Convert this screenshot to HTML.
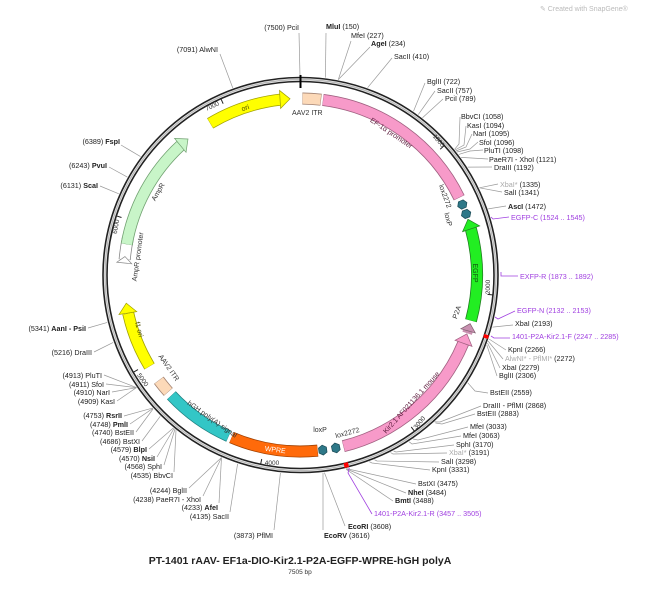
<!DOCTYPE html>
<html><head><meta charset="utf-8"><style>
body{margin:0;background:#fff;}
svg{display:block;font-family:"Liberation Sans",sans-serif;}
.l{font-size:7.2px;fill:#222;}
.b{font-weight:bold;}
.g{fill:#aaa;}
.p{fill:#a040e0;}
.ln line,.ln polyline{stroke:#999;stroke-width:0.7;fill:none;}
.pl{stroke:#a040e0;stroke-width:0.8;fill:none;}
.f{font-size:7px;fill:#333;}
</style></head><body>
<svg width="650" height="596" viewBox="0 0 650 596" xmlns="http://www.w3.org/2000/svg">
<text x="540" y="11" font-size="7" fill="#bbb">✎ Created with SnapGene®</text>
<!-- leader lines -->
<g class="ln">
<line x1="299" y1="33" x2="300" y2="76"/>
<line x1="326" y1="33" x2="325.4" y2="77.6"/>
<line x1="351" y1="41" x2="338.3" y2="79.6"/>
<line x1="370" y1="47" x2="338.3" y2="79.6"/>
<line x1="392" y1="58" x2="367.6" y2="87.7"/>
<line x1="220" y1="54" x2="232.8" y2="88"/>
<line x1="121" y1="145" x2="140.5" y2="156.6"/>
<line x1="109" y1="167" x2="127.3" y2="177.1"/>
<line x1="100" y1="186" x2="118.8" y2="193.8"/>
<line x1="425" y1="83" x2="413.5" y2="111.2"/>
<line x1="435" y1="91" x2="418.3" y2="114.6"/>
<line x1="443" y1="99" x2="422.5" y2="117.8"/>
<polyline points="460,117 459,144 454.7,149.2"/>
<polyline points="466,126 464,145 455,150"/>
<polyline points="472,134 466,147 456,151"/>
<polyline points="478,142 470,149 457,152"/>
<polyline points="483,150 470,151 458.7,154.4"/>
<line x1="488" y1="159" x2="461.1" y2="157.4"/>
<line x1="492" y1="167" x2="467.8" y2="167.1"/>
<line x1="498" y1="184" x2="479.4" y2="187.8"/>
<line x1="502" y1="192" x2="479.4" y2="187.8"/>
<line x1="506" y1="206" x2="488.2" y2="208.9"/>
<line x1="513" y1="325" x2="492.5" y2="327.1"/>
<line x1="506" y1="350" x2="489" y2="339"/>
<line x1="503" y1="359" x2="488" y2="341"/>
<line x1="500" y1="368" x2="487.5" y2="343"/>
<line x1="497" y1="376" x2="486.8" y2="345"/>
<polyline points="488,393 475,391 467.8,382.8"/>
<polyline points="481,406 440,422 434.6,421.9"/>
<polyline points="475,414 442,424 435.5,423"/>
<polyline points="468,427 418,440 413.1,439"/>
<polyline points="461,436 412,444 409.2,441.8"/>
<polyline points="454,445 396,452 393.6,451"/>
<polyline points="447,453 393,454 390.5,452.5"/>
<polyline points="439,462 377,461 374.4,459.7"/>
<polyline points="430,470 372,463 369.2,461.7"/>
<line x1="416" y1="484" x2="346.3" y2="468.6"/>
<line x1="406" y1="493" x2="346.3" y2="469"/>
<line x1="393" y1="501" x2="346.3" y2="469.5"/>
<line x1="345" y1="526" x2="324.4" y2="472.6"/>
<line x1="323" y1="530" x2="323" y2="472.7"/>
<line x1="274" y1="530" x2="280.4" y2="473"/>
<line x1="230" y1="512" x2="237.6" y2="463.8"/>
<line x1="219" y1="503" x2="221.5" y2="457.5"/>
<line x1="203" y1="496" x2="221.5" y2="457.5"/>
<line x1="189" y1="488" x2="221.5" y2="457.5"/>
<line x1="174" y1="472" x2="176" y2="430"/>
<line x1="164" y1="465" x2="175" y2="429"/>
<line x1="157" y1="457" x2="174" y2="428.5"/>
<line x1="149" y1="449" x2="173.3" y2="428"/>
<line x1="142" y1="441" x2="160.2" y2="416.3"/>
<line x1="136" y1="432" x2="153" y2="409"/>
<line x1="130" y1="424" x2="152.8" y2="408.4"/>
<line x1="124" y1="416" x2="152.6" y2="408.1"/>
<line x1="117" y1="401" x2="136.5" y2="387.6"/>
<line x1="112" y1="392" x2="136.5" y2="387.6"/>
<line x1="106" y1="384" x2="136.5" y2="387.6"/>
<line x1="104" y1="375" x2="136.5" y2="387.6"/>
<line x1="94" y1="352" x2="113.2" y2="342.4"/>
<line x1="88" y1="328" x2="107.3" y2="322.4"/>
</g>
<g>
<polyline class="pl" points="509,217 493,219 491,217"/>
<polyline class="pl" points="518,276 501,276 501,272"/>
<polyline class="pl" points="515,311 498,319 495,317"/>
<polyline class="pl" points="510,338 494,338 491,336"/>
<polyline class="pl" points="372,514 348,473 349.3,467.9"/>
</g>
<!-- backbone -->
<circle cx="300.5" cy="275" r="197.5" fill="none" stroke="#222" stroke-width="1.6"/>
<circle cx="300.5" cy="275" r="195.5" fill="none" stroke="#bbb" stroke-width="1.4"/>
<circle cx="300.5" cy="275" r="193.5" fill="none" stroke="#222" stroke-width="1.6"/>
<!-- red marks -->
<circle cx="300.5" cy="275" r="195.5" fill="none" stroke="#f00" stroke-width="5" stroke-dasharray="3.7 2000" transform="rotate(17.8 300.5 275)"/>
<circle cx="300.5" cy="275" r="195.5" fill="none" stroke="#f00" stroke-width="5" stroke-dasharray="4.5 2000" transform="rotate(75.8 300.5 275)"/>
<line x1="300.5" y1="75" x2="300.5" y2="88" stroke="#000" stroke-width="2"/>
<!-- ticks -->
<g stroke="#222" stroke-width="1">
<line x1="300.5" y1="81" x2="300.5" y2="87" transform="rotate(48 300.5 275)"/>
<line x1="300.5" y1="81" x2="300.5" y2="87" transform="rotate(95.9 300.5 275)"/>
<line x1="300.5" y1="81" x2="300.5" y2="87" transform="rotate(143.9 300.5 275)"/>
<line x1="300.5" y1="81" x2="300.5" y2="87" transform="rotate(191.9 300.5 275)"/>
<line x1="300.5" y1="81" x2="300.5" y2="87" transform="rotate(239.8 300.5 275)"/>
<line x1="300.5" y1="81" x2="300.5" y2="87" transform="rotate(287.8 300.5 275)"/>
<line x1="300.5" y1="81" x2="300.5" y2="87" transform="rotate(335.7 300.5 275)"/>
</g>
<!-- features: outline + fill arcs. C=1109 -->
<g fill="none">
<!-- ITR1 0.6-6.7 -->
<circle cx="300.5" cy="275" r="176.5" stroke="#a08070" stroke-width="12" stroke-dasharray="18.8 2000" transform="rotate(-89.4 300.5 275)"/>
<circle cx="300.5" cy="275" r="176.5" stroke="#fcd9b8" stroke-width="10.4" stroke-dasharray="18 2000" transform="rotate(-89.3 300.5 275)"/>
<!-- EF1a 7.3-64 -->
<circle cx="300.5" cy="275" r="176.5" stroke="#a06080" stroke-width="12" stroke-dasharray="174.7 2000" transform="rotate(-82.7 300.5 275)"/>
<circle cx="300.5" cy="275" r="176.5" stroke="#f79ac9" stroke-width="10.4" stroke-dasharray="174 2000" transform="rotate(-82.6 300.5 275)"/>
<!-- EGFP body 74.8-105 -->
<circle cx="300.5" cy="275" r="176.5" stroke="#208020" stroke-width="12" stroke-dasharray="93 2000" transform="rotate(-15.2 300.5 275)"/>
<circle cx="300.5" cy="275" r="176.5" stroke="#22ee22" stroke-width="10.4" stroke-dasharray="92.5 2000" transform="rotate(-15.1 300.5 275)"/>
<!-- P2A 107.5-109.2 -->
<circle cx="300.5" cy="275" r="176.5" stroke="#c890b0" stroke-width="10" stroke-dasharray="5.5 2000" transform="rotate(17.5 300.5 275)"/>
<!-- Kir body 112.7-166 -->
<circle cx="300.5" cy="275" r="176.5" stroke="#a06080" stroke-width="12" stroke-dasharray="164 2000" transform="rotate(22.7 300.5 275)"/>
<circle cx="300.5" cy="275" r="176.5" stroke="#f79ac9" stroke-width="10.4" stroke-dasharray="163.3 2000" transform="rotate(22.8 300.5 275)"/>
<!-- WPRE 174.4-203 -->
<circle cx="300.5" cy="275" r="176.5" stroke="#a04000" stroke-width="12" stroke-dasharray="88.1 2000" transform="rotate(84.4 300.5 275)"/>
<circle cx="300.5" cy="275" r="176.5" stroke="#ff6a0a" stroke-width="10.4" stroke-dasharray="87.5 2000" transform="rotate(84.5 300.5 275)"/>
<!-- hGH 204-227 -->
<circle cx="300.5" cy="275" r="176.5" stroke="#208080" stroke-width="12" stroke-dasharray="70.9 2000" transform="rotate(114 300.5 275)"/>
<circle cx="300.5" cy="275" r="176.5" stroke="#33c6c6" stroke-width="10.4" stroke-dasharray="70.3 2000" transform="rotate(114.1 300.5 275)"/>
<!-- ITR2 228.5-233.4 -->
<circle cx="300.5" cy="275" r="176.5" stroke="#a08070" stroke-width="12" stroke-dasharray="15.1 2000" transform="rotate(138.5 300.5 275)"/>
<circle cx="300.5" cy="275" r="176.5" stroke="#fcd9b8" stroke-width="10.4" stroke-dasharray="14.5 2000" transform="rotate(138.6 300.5 275)"/>
<!-- f1 ori body 238.8-257.5 -->
<circle cx="300.5" cy="275" r="176.5" stroke="#a0a000" stroke-width="12" stroke-dasharray="57.6 2000" transform="rotate(148.8 300.5 275)"/>
<circle cx="300.5" cy="275" r="176.5" stroke="#ffff00" stroke-width="10.4" stroke-dasharray="57 2000" transform="rotate(148.9 300.5 275)"/>
<!-- AmpR promoter 275-282 -->
<circle cx="300.5" cy="275" r="176.5" stroke="#888" stroke-width="12" stroke-dasharray="21.6 2000" transform="rotate(185 300.5 275)"/>
<circle cx="300.5" cy="275" r="176.5" stroke="#fff" stroke-width="10.4" stroke-dasharray="21 2000" transform="rotate(185.1 300.5 275)"/>
<!-- AmpR body 280-317.2 -->
<circle cx="300.5" cy="275" r="176.5" stroke="#70a070" stroke-width="12" stroke-dasharray="114.6 2000" transform="rotate(190 300.5 275)"/>
<circle cx="300.5" cy="275" r="176.5" stroke="#c8f5c8" stroke-width="10.4" stroke-dasharray="114 2000" transform="rotate(190.1 300.5 275)"/>
<!-- ori body 329.2-353.4 -->
<circle cx="300.5" cy="275" r="176.5" stroke="#a0a000" stroke-width="12" stroke-dasharray="74.5 2000" transform="rotate(239.2 300.5 275)"/>
<circle cx="300.5" cy="275" r="176.5" stroke="#ffff00" stroke-width="10.4" stroke-dasharray="74 2000" transform="rotate(239.3 300.5 275)"/>
</g>
<!-- arrowheads -->
<g stroke-width="0.7">
<polygon points="300.5,98.5 310.5,89.5 310.5,107.5" fill="#22ee22" stroke="#208020" transform="rotate(71.6 300.5 275)"/>
<polygon points="300.5,98.5 308,91 308,106" fill="#c890b0" stroke="#806070" transform="rotate(106 300.5 275)"/>
<polygon points="300.5,98.5 310.5,89.5 310.5,107.5" fill="#f79ac9" stroke="#a06080" transform="rotate(109.5 300.5 275)"/>
<polygon points="300.5,98.5 290.5,89.5 290.5,107.5" fill="#ffff00" stroke="#a0a000" transform="rotate(260.8 300.5 275)"/>
<polygon points="300.5,98.5 290.5,89.5 290.5,107.5" fill="#c8f5c8" stroke="#70a070" transform="rotate(320.4 300.5 275)"/>
<polygon points="300.5,98.5 290.5,89.5 290.5,107.5" fill="#ffff00" stroke="#a0a000" transform="rotate(356.6 300.5 275)"/>
<polygon points="300.5,98.5 294,91 294,106" fill="#fff" stroke="#888" transform="rotate(276 300.5 275)"/>
<!-- lox sites -->
<polygon points="297,96 301,93.5 305,96 305,101 301,103.5 297,101" fill="#2e7888" stroke="#1a4a55" transform="rotate(66.3 300.5 275)"/>
<polygon points="297,96 301,93.5 305,96 305,101 301,103.5 297,101" fill="#2e7888" stroke="#1a4a55" transform="rotate(69.6 300.5 275)"/>
<polygon points="297,96 301,93.5 305,96 305,101 301,103.5 297,101" fill="#2e7888" stroke="#1a4a55" transform="rotate(168.3 300.5 275)"/>
<polygon points="297,96 301,93.5 305,96 305,101 301,103.5 297,101" fill="#2e7888" stroke="#1a4a55" transform="rotate(172.6 300.5 275)"/>
</g>
<!-- feature labels -->
<g class="f">
<text x="292" y="115">AAV2 ITR</text>
<text x="390" y="135" text-anchor="middle" transform="rotate(34 390 135)" fill="#602040">EF-1α promoter</text>
<text x="437" y="142" text-anchor="middle" transform="rotate(50 437 142)" font-size="6.5">1000</text>
<text x="443" y="197" text-anchor="middle" transform="rotate(70 443 197)">lox2272</text>
<text x="446" y="220" text-anchor="middle" transform="rotate(75 446 220)">loxP</text>
<text x="473" y="273" text-anchor="middle" transform="rotate(90 473 273)" fill="#105010">EGFP</text>
<text x="490" y="287" text-anchor="middle" transform="rotate(-90 490 287)" font-size="6.5">2000</text>
<text x="459" y="313" text-anchor="middle" transform="rotate(-70 459 313)">P2A</text>
<text x="413" y="404" text-anchor="middle" transform="rotate(-48 413 404)" fill="#602040">Kir2.1 AF021136.1 mouse</text>
<text x="421" y="424" text-anchor="middle" transform="rotate(-50 421 424)" font-size="6.5">3000</text>
<text x="320" y="432" text-anchor="middle">loxP</text>
<text x="348" y="435" text-anchor="middle" transform="rotate(-15 348 435)">lox2272</text>
<text x="275" y="452" text-anchor="middle" transform="rotate(7 275 452)" fill="#fff">WPRE</text>
<text x="272" y="465" text-anchor="middle" font-size="6.5">4000</text>
<text x="211" y="421" text-anchor="middle" transform="rotate(35 211 421)">hGH poly(A) signal</text>
<text x="167" y="369" text-anchor="middle" transform="rotate(55 167 369)">AAV2 ITR</text>
<text x="141" y="381" text-anchor="middle" transform="rotate(55 141 381)" font-size="6.5">5000</text>
<text x="137" y="330" text-anchor="middle" transform="rotate(75 137 330)" fill="#505000">f1 ori</text>
<text x="140" y="257" text-anchor="middle" transform="rotate(-82 140 257)">AmpR promoter</text>
<text x="118" y="227" text-anchor="middle" transform="rotate(-80 118 227)" font-size="6.5">6000</text>
<text x="160" y="193" text-anchor="middle" transform="rotate(-60 160 193)">AmpR</text>
<text x="246" y="110" text-anchor="middle" transform="rotate(-20 246 110)" fill="#505000">ori</text>
<text x="213" y="108" text-anchor="middle" transform="rotate(-25 213 108)" font-size="6.5">7000</text>
</g>
<!-- site labels -->
<g class="l">
<text x="299" y="30" text-anchor="end">(7500)  PciI</text>
<text x="326" y="29"><tspan class="b">MluI</tspan>  (150)</text>
<text x="351" y="38">MfeI  (227)</text>
<text x="371" y="46"><tspan class="b">AgeI</tspan>  (234)</text>
<text x="394" y="59">SacII  (410)</text>
<text x="218" y="52" text-anchor="end">(7091)  AlwNI</text>
<text x="120" y="144" text-anchor="end">(6389)  <tspan class="b">FspI</tspan></text>
<text x="107" y="168" text-anchor="end">(6243)  <tspan class="b">PvuI</tspan></text>
<text x="98" y="188" text-anchor="end">(6131)  <tspan class="b">ScaI</tspan></text>
<text x="427" y="84">BglII  (722)</text>
<text x="437" y="93">SacII  (757)</text>
<text x="445" y="101">PciI  (789)</text>
<text x="461" y="119">BbvCI  (1058)</text>
<text x="467" y="128">KasI  (1094)</text>
<text x="473" y="136">NarI  (1095)</text>
<text x="479" y="145">SfoI  (1096)</text>
<text x="484" y="153">PluTI  (1098)</text>
<text x="489" y="162">PaeR7I - XhoI  (1121)</text>
<text x="494" y="170">DraIII  (1192)</text>
<text x="500" y="187"><tspan class="g">XbaI*</tspan>  (1335)</text>
<text x="504" y="195">SalI  (1341)</text>
<text x="508" y="209"><tspan class="b">AscI</tspan>  (1472)</text>
<text x="511" y="220" class="p">EGFP-C  (1524 .. 1545)</text>
<text x="520" y="279" class="p">EXFP-R  (1873 .. 1892)</text>
<text x="517" y="313" class="p">EGFP-N  (2132 .. 2153)</text>
<text x="515" y="326">XbaI  (2193)</text>
<text x="512" y="339" class="p">1401-P2A-Kir2.1-F  (2247 .. 2285)</text>
<text x="508" y="352">KpnI  (2266)</text>
<text x="505" y="361"><tspan class="g">AlwNI* - PflMI*</tspan>  (2272)</text>
<text x="502" y="370">XbaI  (2279)</text>
<text x="499" y="378">BglII  (2306)</text>
<text x="490" y="395">BstEII  (2559)</text>
<text x="483" y="408">DraIII - PflMI  (2868)</text>
<text x="477" y="416">BstEII  (2883)</text>
<text x="470" y="429">MfeI  (3033)</text>
<text x="463" y="438">MfeI  (3063)</text>
<text x="456" y="447">SphI  (3170)</text>
<text x="449" y="455"><tspan class="g">XbaI*</tspan>  (3191)</text>
<text x="441" y="464">SalI  (3298)</text>
<text x="432" y="472">KpnI  (3331)</text>
<text x="418" y="486">BstXI  (3475)</text>
<text x="408" y="495"><tspan class="b">NheI</tspan>  (3484)</text>
<text x="395" y="503"><tspan class="b">BmtI</tspan>  (3488)</text>
<text x="374" y="516" class="p">1401-P2A-Kir2.1-R  (3457 .. 3505)</text>
<text x="348" y="529"><tspan class="b">EcoRI</tspan>  (3608)</text>
<text x="324" y="538"><tspan class="b">EcoRV</tspan>  (3616)</text>
<text x="273" y="538" text-anchor="end">(3873)  PflMI</text>
<text x="229" y="519" text-anchor="end">(4135)  SacII</text>
<text x="218" y="510" text-anchor="end">(4233)  <tspan class="b">AfeI</tspan></text>
<text x="201" y="502" text-anchor="end">(4238)  PaeR7I - XhoI</text>
<text x="187" y="493" text-anchor="end">(4244)  BglII</text>
<text x="173" y="478" text-anchor="end">(4535)  BbvCI</text>
<text x="162" y="469" text-anchor="end">(4568)  SphI</text>
<text x="155" y="461" text-anchor="end">(4570)  <tspan class="b">NsiI</tspan></text>
<text x="147" y="452" text-anchor="end">(4579)  <tspan class="b">BlpI</tspan></text>
<text x="140" y="444" text-anchor="end">(4686)  BstXI</text>
<text x="134" y="435" text-anchor="end">(4740)  BstEII</text>
<text x="128" y="427" text-anchor="end">(4748)  <tspan class="b">PmlI</tspan></text>
<text x="122" y="418" text-anchor="end">(4753)  <tspan class="b">RsrII</tspan></text>
<text x="115" y="404" text-anchor="end">(4909)  KasI</text>
<text x="110" y="395" text-anchor="end">(4910)  NarI</text>
<text x="104" y="387" text-anchor="end">(4911)  SfoI</text>
<text x="102" y="378" text-anchor="end">(4913)  PluTI</text>
<text x="92" y="355" text-anchor="end">(5216)  DraIII</text>
<text x="86" y="331" text-anchor="end">(5341)  <tspan class="b">AanI - PsiI</tspan></text>
</g>
<text x="300" y="564" text-anchor="middle" font-size="10.5" font-weight="bold" fill="#222">PT-1401   rAAV- EF1a-DIO-Kir2.1-P2A-EGFP-WPRE-hGH polyA</text>
<text x="300" y="574" text-anchor="middle" font-size="6.5" fill="#333">7505 bp</text>
</svg>
</body></html>
